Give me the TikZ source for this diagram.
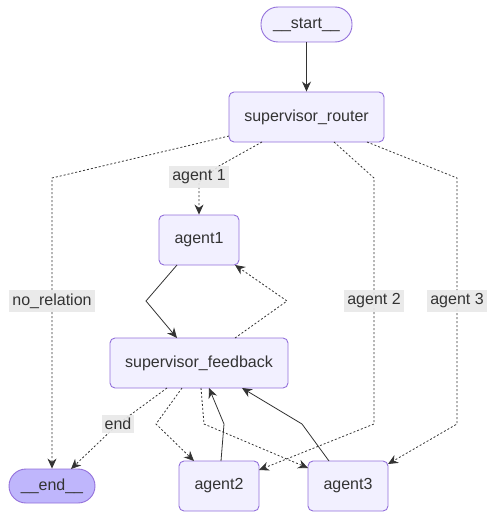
\documentclass[tikz,border=0pt]{standalone}
\usepackage{fontspec}
\setmainfont{Liberation Sans}
\usetikzlibrary{arrows.meta}
\definecolor{nodefill}{HTML}{F2F0FF}
\definecolor{nodeline}{HTML}{9370DB}
\definecolor{endfill}{HTML}{BFB6FC}
\definecolor{txt}{HTML}{333333}
\definecolor{lblbg}{HTML}{E8E8E8}
\tikzset{
  box/.style={draw=nodeline, fill=nodefill, line width=0.9pt, rounded corners=5pt, text=txt, font=\fontsize{16}{19}\selectfont, inner sep=0pt, anchor=center},
  pill/.style={box, rounded corners=17pt},
  lbl/.style={fill=lblbg, fill opacity=0.9, text opacity=1, text=txt, font=\fontsize{16}{19}\selectfont, inner xsep=3pt, inner ysep=3.5pt, anchor=center},
  solidedge/.style={draw=txt, line width=0.8pt, -{Stealth[length=10pt,width=9pt]}},
  dotedge/.style={draw=txt, line width=0.8pt, dash pattern=on 2pt off 2pt, -{Stealth[length=10pt,width=9pt]}},
}
\begin{document}
\begin{tikzpicture}[x=1pt,y=-1pt]
\useasboundingbox (0,0) rectangle (496,519);
% nodes
\node[pill, minimum width=91pt, minimum height=35pt] (start) at (306.5,24.5) {\_\_start\_\_};
\node[box, minimum width=155pt, minimum height=50pt] (router) at (306.5,117) {supervisor\_router};
\node[box, minimum width=80pt, minimum height=50pt] (agent1) at (199,240) {agent1};
\node[box, minimum width=178pt, minimum height=50pt] (feedback) at (199,363) {supervisor\_feedback};
\node[pill, fill=endfill, minimum width=86pt, minimum height=34pt] (end) at (52,486) {\_\_end\_\_};
\node[box, minimum width=80pt, minimum height=50pt] (agent2) at (219,486) {agent2};
\node[box, minimum width=80pt, minimum height=50pt] (agent3) at (348,486) {agent3};
% coordinates on router / feedback
\coordinate (r1) at (229,136);
\coordinate (r2) at (262,142);
\coordinate (r3) at (334,142);
\coordinate (r4) at (367,142);
\coordinate (a1b) at (177,265);
\coordinate (a1t) at (235,265);
\coordinate (fb1) at (177,338);
\coordinate (fb2) at (235,338);
\coordinate (f1) at (167,388);
\coordinate (f2) at (182,388);
\coordinate (f3) at (201,388);
\coordinate (f4) at (209,388);
\coordinate (f5) at (242,388);
% edges
\draw[solidedge] (start) -- (router);
\draw[dotedge] (r1) -- (52,178) -- (end.north);
\draw[dotedge] (r2) -- (219,166) -- (199,182) -- (agent1.north);
\draw[dotedge] (r3) -- (374,178) -- (374,424) -- (259,470);
\draw[dotedge] (r4) -- (457,178) -- (457,424) -- (388,464);
\draw[solidedge] (a1b) -- (146,301) -- (fb1);
\draw[dotedge] (fb2) -- (287,301) -- (a1t);
\draw[dotedge] (f1) -- (118,424) -- (71,469);
\draw[dotedge] (f2) -- (156,424) -- (194,461);
\draw[dotedge] (f3) -- (204,424) -- (308,468);
\draw[solidedge] (221,461) -- (224,424) -- (f4);
\draw[solidedge] (329,461) -- (302,424) -- (f5);
% labels
\node[lbl] (l1) at (199,177) {agent 1};
\node[lbl] (l2) at (52,301) {no\_relation};
\node[lbl] (l3) at (374,301) {agent 2};
\node[lbl] (l4) at (457,301) {agent 3};
\node[lbl] (l5) at (118,424) {end};
\end{tikzpicture}
\end{document}
